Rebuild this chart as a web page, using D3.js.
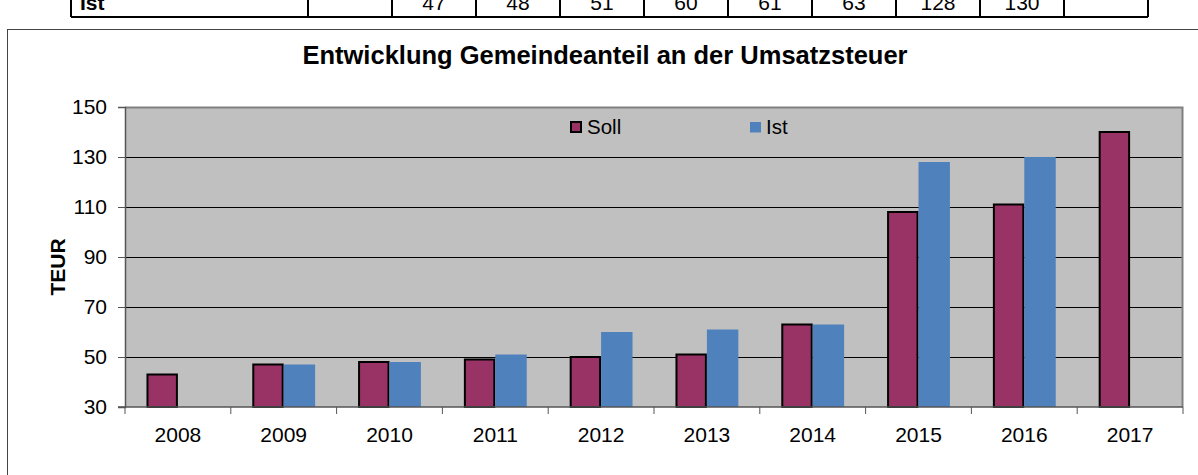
<!DOCTYPE html>
<html>
<head>
<meta charset="utf-8">
<script src="https://cdn.jsdelivr.net/npm/d3@7"></script>
<style>
  body { margin: 0; background: #fff; }
  svg { display: block; font-family: "Liberation Sans", Arial, sans-serif; }
</style>
</head>
<body>
<svg></svg>
<script>
// data
var years = ["2008", "2009", "2010", "2011", "2012", "2013", "2014", "2015", "2016", "2017"]
var soll = [43, 47, 48, 49, 50, 51, 63, 108, 111, 140]
var ist = [null, 47, 48, 51, 60, 61, 63, 128, 130, null]
var seriesNames = ["Soll", "Ist"]
var yTicks = [30, 50, 70, 90, 110, 130, 150]

var dimensions = {
    width: 1198,
    height: 475,
    margin: { top: 107, bottom: 68, left: 125, right: 15 }
}

var colors = { Soll: "#993366", Ist: "#4f81bd" }

var svg = d3.select("svg")
            .attr("width", dimensions.width)
            .attr("height", dimensions.height)

// leftover row of the table above the chart (Ist values)
var tableCols = d3.scaleBand()
                  .domain(years)
                  .range([308, 1148])
var table = svg.append("g")
table.append("line")
     .attr("x1", 71).attr("x2", 1148)
     .attr("y1", 17).attr("y2", 17)
     .attr("stroke", "black").attr("stroke-width", 2)
table.selectAll(".vline")
     .data([71].concat(years.map(y => tableCols(y))).concat([1148]))
     .enter()
     .append("line")
     .attr("x1", d => d).attr("x2", d => d)
     .attr("y1", 0).attr("y2", 17)
     .attr("stroke", "black").attr("stroke-width", 2)
table.append("text")
     .attr("x", 80).attr("y", 10)
     .attr("font-size", 21).attr("font-weight", "bold")
     .text("Ist")
table.selectAll(".cell")
     .data(years.map((y, i) => ({ year: y, v: ist[i] })).filter(d => d.v != null))
     .enter()
     .append("text")
     .attr("x", d => tableCols(d.year) + tableCols.bandwidth() / 2)
     .attr("y", 10)
     .attr("text-anchor", "middle")
     .attr("font-size", 21)
     .text(d => d.v)

// chart frame
svg.append("rect")
   .attr("x", 7.5).attr("y", 29.5)
   .attr("width", 1200).attr("height", 460)
   .attr("fill", "white")
   .attr("stroke", "#444").attr("stroke-width", 1)

var x0 = d3.scaleBand()
           .domain(years)
           .range([dimensions.margin.left, dimensions.width - dimensions.margin.right])
           .paddingInner(0.406)
           .paddingOuter(0.203)
var x1 = d3.scaleBand()
           .domain(seriesNames)
           .range([0, x0.bandwidth()])
var y = d3.scaleLinear()
          .domain([30, 150])
          .range([dimensions.height - dimensions.margin.bottom, dimensions.margin.top])

var left = dimensions.margin.left
var right = dimensions.width - dimensions.margin.right

// plot background
svg.append("rect")
   .attr("x", left).attr("y", y(150))
   .attr("width", right - left).attr("height", y(30) - y(150))
   .attr("fill", "#c0c0c0")

// gridlines
svg.append("g")
   .selectAll("line")
   .data(yTicks.filter(t => t > 30 && t < 150))
   .enter()
   .append("line")
   .attr("x1", left).attr("x2", right)
   .attr("y1", d => y(d) + 0.5).attr("y2", d => y(d) + 0.5)
   .attr("stroke", "black").attr("stroke-width", 1)

// top + right border of plot area
svg.append("path")
   .attr("d", "M" + left + "," + (y(150) + 0.5) + "H" + (right - 0.5) + "V" + y(30))
   .attr("fill", "none")
   .attr("stroke", "#808080").attr("stroke-width", 2)

// bars
var rows = years.map((yr, i) => ({ year: yr, Soll: soll[i], Ist: ist[i] }))
var groups = svg.append("g")
                .selectAll(".year")
                .data(rows)
                .enter()
                .append("g")
                .attr("transform", d => "translate(" + x0(d.year) + ",0)")

groups.selectAll("rect")
      .data(d => seriesNames.map(k => ({ key: k, value: d[k] })).filter(d => d.value != null))
      .enter()
      .append("rect")
      .attr("x", d => x1(d.key) + (d.key == "Soll" ? 1 : 0))
      .attr("y", d => y(d.value))
      .attr("width", d => x1.bandwidth() - (d.key == "Soll" ? 2 : 0))
      .attr("height", d => y(30) - y(d.value))
      .attr("fill", d => colors[d.key])
      .attr("stroke", d => d.key == "Soll" ? "black" : "none")
      .attr("stroke-width", 2)

// y axis
var yAxis = svg.append("g")
               .attr("transform", "translate(" + left + ",0)")
               .call(d3.axisLeft(y).tickValues(yTicks).tickSize(7).tickPadding(11))
yAxis.select(".domain").attr("stroke", "#555").attr("stroke-width", 1.5)
yAxis.selectAll(".tick line").attr("stroke", "#555")
yAxis.selectAll("text")
     .attr("font-size", 21)
     .attr("font-family", "Liberation Sans, Arial, sans-serif")
     .attr("fill", "black")

// x axis
svg.append("line")
   .attr("x1", left - 7).attr("x2", right)
   .attr("y1", y(30)).attr("y2", y(30))
   .attr("stroke", "#555").attr("stroke-width", 1.5)
var boundaries = years.map(yr => x0(yr) - x0.step() * 0.203).concat([right])
svg.append("g")
   .selectAll("line")
   .data(boundaries)
   .enter()
   .append("line")
   .attr("x1", d => d).attr("x2", d => d)
   .attr("y1", y(30)).attr("y2", y(30) + 7)
   .attr("stroke", "#555")
svg.append("g")
   .selectAll("text")
   .data(years)
   .enter()
   .append("text")
   .attr("x", d => x0(d) + x0.bandwidth() / 2)
   .attr("y", 441.5)
   .attr("text-anchor", "middle")
   .attr("font-size", 21)
   .text(d => d)

// title
svg.append("text")
   .attr("x", 605).attr("y", 64)
   .attr("text-anchor", "middle")
   .attr("font-size", 25.5).attr("font-weight", "bold")
   .text("Entwicklung Gemeindeanteil an der Umsatzsteuer")

// y label
svg.append("text")
   .attr("transform", "translate(64.5,267) rotate(-90)")
   .attr("text-anchor", "middle")
   .attr("font-size", 21).attr("font-weight", "bold")
   .text("TEUR")

// legend
var legend = svg.append("g")
var legendX = { Soll: 570, Ist: 750 }
legend.selectAll("rect")
      .data(seriesNames)
      .enter()
      .append("rect")
      .attr("x", d => legendX[d] + (d == "Soll" ? 1 : 0))
      .attr("y", 122)
      .attr("width", d => d == "Soll" ? 10 : 11)
      .attr("height", d => d == "Soll" ? 10 : 10.5)
      .attr("fill", d => colors[d])
      .attr("stroke", d => d == "Soll" ? "black" : "none")
      .attr("stroke-width", 2)
legend.selectAll("text")
      .data(seriesNames)
      .enter()
      .append("text")
      .attr("x", d => legendX[d] + (d == "Soll" ? 17 : 16))
      .attr("y", 134)
      .attr("font-size", 20.5)
      .text(d => d)
</script>
</body>
</html>
